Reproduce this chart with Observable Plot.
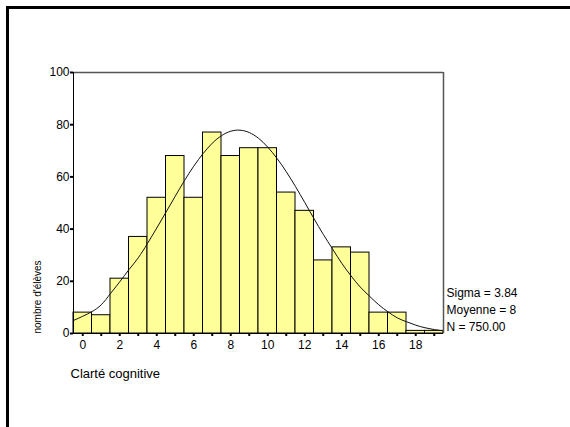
<!DOCTYPE html>
<html>
<head>
<meta charset="utf-8">
<script src="https://cdn.jsdelivr.net/npm/d3@7"></script>
<script src="https://cdn.jsdelivr.net/npm/@observablehq/plot@0.6"></script>
<style>
  html, body { margin: 0; padding: 0; background: #fff; overflow: hidden; }
  #wrap { position: relative; width: 570px; height: 427px; overflow: hidden; }
  #frame { position: absolute; left: 6px; top: 6px; width: 700px; height: 600px;
           border-top: 3px solid #000; border-left: 3px solid #000; box-sizing: border-box; }
  #chart { position: absolute; left: 0; top: 0; }
</style>
</head>
<body>
<div id="wrap"><div id="frame"></div><div id="chart"></div></div>
<script>
// Categories (score bins, width 1, centred on integers)
const scores = [0,1,2,3,4,5,6,7,8,9,10,11,12,13,14,15,16,17,18,19];
// Number of pupils per bin
const counts = [8,7,21,37,52,68,52,77,68,71,71,54,47,28,33,31,8,8,1,1];
// Fitted normal curve
const curveX = [-0.5,0,0.5,1,1.5,2,2.5,3,3.5,4,4.5,5,5.5,6,6.5,7,7.5,8,8.5,9,9.5,10,10.5,11,11.5,12,12.5,13,13.5,14,14.5,15,15.5,16,16.5,17,17.5,18,18.5,19,19.5];
const curveY = [5,6.6,8.4,11,15.3,19.8,24.5,29,34.5,40.4,46.5,52.6,58.6,64.1,68.9,72.9,75.8,77.5,77.9,77,74.8,71.4,67.1,62,56.3,50.2,44,38,32.4,26.9,22.1,17.8,14.3,11,8.3,6,4.5,3.2,2.2,1.5,1];
// Tick labels
const xTickMarks = [0,1,2,3,4,5,6,7,8,9,10,11,12,13,14,15,16,17,18,19];
const xTickLabels = [0,2,4,6,8,10,12,14,16,18];
const yTicks = [0,20,40,60,80,100];
// Texts
const statLines = ["Sigma = 3.84", "Moyenne = 8", "N = 750.00"];
const xTitle = "Clarté cognitive";
const yTitle = "nombre d'élèves";

const bars = scores.map((s, i) => ({x1: s - 0.5, x2: s + 0.5, count: counts[i]}));
const curve = curveX.map((x, i) => ({x, y: curveY[i]}));

const plot = Plot.plot({
  width: 570,
  height: 427,
  marginLeft: 73,
  marginRight: 127,
  marginTop: 72,
  marginBottom: 94,
  style: {fontFamily: "'Liberation Sans', Arial, sans-serif", fontSize: "12px", background: "transparent", color: "#000"},
  x: {domain: [-0.5, 19.5]},
  y: {domain: [0, 100]},
  marks: [
    Plot.rectY(bars, {x1: "x1", x2: "x2", y: "count", fill: "#ffff99", stroke: "#000", strokeWidth: 1}),
    Plot.line(curve, {x: "x", y: "y", stroke: "#111", strokeWidth: 1, curve: "natural"}),
    Plot.ruleY([100], {stroke: "#555", strokeWidth: 1.5}),
    Plot.ruleX([19.5], {stroke: "#555", strokeWidth: 1.5}),
    Plot.ruleY([0], {stroke: "#000", strokeWidth: 1}),
    Plot.ruleX([-0.5], {stroke: "#000", strokeWidth: 1}),
    Plot.axisX({ticks: xTickMarks, tickFormat: () => "", tickSize: 3, tickPadding: 0, strokeWidth: 2, label: null, fontSize: 12}),
    Plot.axisX({ticks: xTickLabels, tickSize: 0, tickPadding: 7, label: null, fontSize: 12}),
    Plot.axisY({ticks: yTicks, tickSize: 3, tickPadding: 1, strokeWidth: 2, label: null, fontSize: 12}),
    Plot.text([yTitle], {frameAnchor: "bottom-left", dx: -36, dy: 0, rotate: -90, textAnchor: "start", lineAnchor: "middle", fontSize: 10}),
    Plot.text([xTitle], {frameAnchor: "bottom-left", dx: -3, dy: 40, textAnchor: "start", lineAnchor: "middle", fontSize: 13}),
    Plot.text([statLines.join("\n")], {frameAnchor: "bottom-right", dx: 3, dy: -3, textAnchor: "start", lineAnchor: "bottom", lineHeight: 1.39, fontSize: 12})
  ]
});
document.getElementById("chart").appendChild(plot);
</script>
</body>
</html>
